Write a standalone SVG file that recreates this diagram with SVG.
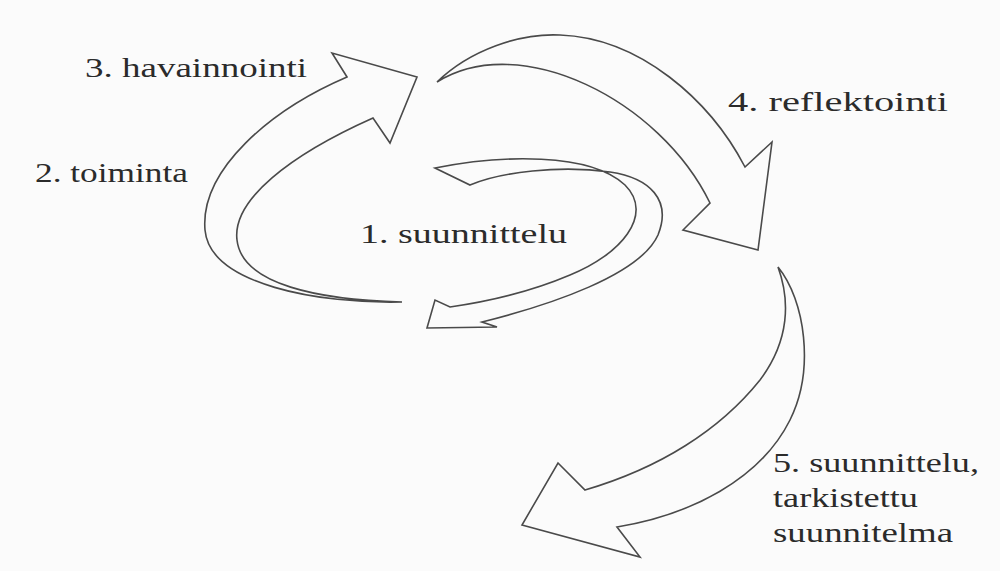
<svg xmlns="http://www.w3.org/2000/svg" width="1000" height="571" viewBox="0 0 1000 571">
<style>
.arr{fill:none;stroke:#4a4a4a;stroke-width:1.6;stroke-linejoin:miter}
.lbl{font-family:"Liberation Serif","DejaVu Serif","Times New Roman",serif;font-size:27px;fill:#2b2b2b}
</style>
<rect width="1000" height="571" fill="#fbfbfb"/>
<g id="connectors">
<path id="arrow-toiminta" class="arr" d="M402,302 C320,304 210,285 205,230 C200,170 270,110 347,77 L332,53 L417,77 L390,143 L373,118 C290,155 232,200 237,240 C242,285 320,300 402,302 Z"/>
<path id="arrow-reflektointi" class="arr" d="M437,82 C470,50 520,33 560,35 C640,38 710,100 745,167 L772,142 L758,250 L683,230 L710,203 C660,100 520,30 437,82 Z"/>
<path id="arrow-suunnittelu1" class="arr" d="M435,168 C500,155 590,152 625,185 C655,215 620,255 570,275 C530,292 485,302 450,307 L435,300 L427,328 L497,327 L482,322 C550,305 640,275 658,235 C672,200 650,178 610,172 C560,165 500,172 470,185 Z"/>
<path id="arrow-suunnittelu5" class="arr" d="M778,267 C805,300 815,370 790,420 C760,480 690,515 617,527 L640,557 L522,525 L558,463 L585,490 C660,468 720,430 760,380 C790,340 790,300 778,267 Z"/>
</g>
<g id="node-havainnointi"><text class="lbl" x="85" y="77" textLength="222" lengthAdjust="spacingAndGlyphs">3. havainnointi</text></g>
<g id="node-toiminta"><text class="lbl" x="35" y="182" textLength="153" lengthAdjust="spacingAndGlyphs">2. toiminta</text></g>
<g id="node-suunnittelu1"><text class="lbl" x="360" y="243" textLength="207" lengthAdjust="spacingAndGlyphs">1. suunnittelu</text></g>
<g id="node-reflektointi"><text class="lbl" x="728" y="111" textLength="220" lengthAdjust="spacingAndGlyphs">4. reflektointi</text></g>
<g id="node-suunnittelu5">
<text class="lbl" x="773" y="472" textLength="206" lengthAdjust="spacingAndGlyphs">5. suunnittelu,</text>
<text class="lbl" x="773" y="507" textLength="145" lengthAdjust="spacingAndGlyphs">tarkistettu</text>
<text class="lbl" x="773" y="542" textLength="180" lengthAdjust="spacingAndGlyphs">suunnitelma</text>
</g>
</svg>
